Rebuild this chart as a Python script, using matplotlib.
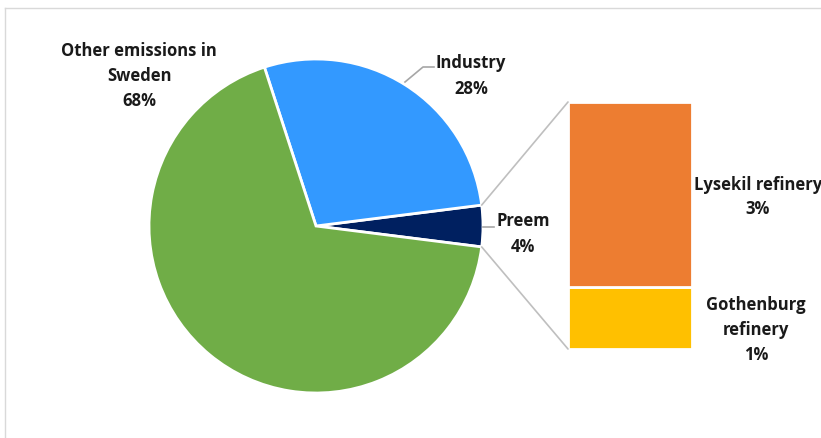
import matplotlib
matplotlib.use("Agg")
import matplotlib.pyplot as plt
from matplotlib.patches import ConnectionPatch
from matplotlib.lines import Line2D
import numpy as np

# data
pie_labels = ["Preem", "Industry", "Other emissions in\nSweden"]
pie_values = [4, 28, 68]
pie_colors = ["#002060", "#3399FF", "#70AD47"]

bar_labels = ["Gothenburg\nrefinery", "Lysekil refinery"]
bar_values = [1, 3]
bar_colors = ["#FFC000", "#ED7D31"]

W, H = 821, 439
plt.rcParams['font.family'] = ['Open Sans', 'DejaVu Sans']
fig = plt.figure(figsize=(W / 100, H / 100), dpi=100)
ax = fig.add_axes([0, 0, 1, 1])
ax.set_xlim(0, W)
ax.set_ylim(0, H)
ax.set_aspect('equal')
ax.axis('off')

cx, cy, r = 316, H - 227, 167
start = -pie_values[0] / 100 * 360 / 2
wedges, _ = ax.pie(pie_values, colors=pie_colors, startangle=start,
                   counterclock=True, center=(cx, cy), radius=r,
                   wedgeprops=dict(edgecolor='white', linewidth=2), frame=True)
ax.set_xlim(0, W)
ax.set_ylim(0, H)
ax.axis('off')

# bar of pie
bx0, bx1, by_top, by_bot = 568, 692, 103, 350
ax2 = fig.add_axes([bx0 / W, (H - by_bot) / H, (bx1 - bx0) / W, (by_bot - by_top) / H])
bottom = 0
for v, c in zip(bar_values, bar_colors):
    ax2.bar(0, v, bottom=bottom, width=1.0, color=c, edgecolor='white', linewidth=2)
    bottom += v
ax2.set_xlim(-0.5, 0.5)
ax2.set_ylim(0, sum(bar_values))
ax2.axis('off')

# connector lines
t1 = np.deg2rad(wedges[0].theta1)
t2 = np.deg2rad(wedges[0].theta2)
for t, yb in [(t2, sum(bar_values)), (t1, 0)]:
    con = ConnectionPatch(xyA=(cx + r * np.cos(t), cy + r * np.sin(t)), coordsA=ax.transData,
                          xyB=(-0.5, yb), coordsB=ax2.transData,
                          color='#bfbfbf', linewidth=1.2)
    fig.add_artist(con)

txt = dict(ha='center', va='center', fontsize=12, fontweight='bold', color='#1a1a1a',
           linespacing=1.5)
ax.text(139, H - 76, f"{pie_labels[2]}\n{pie_values[2]}%", **txt)
ax.text(471, H - 76, f"{pie_labels[1]}\n{pie_values[1]}%", **txt)
ax.text(523, H - 234, f"{pie_labels[0]}\n{pie_values[0]}%", **txt)
ax.text(758, H - 197, f"{bar_labels[1]}\n{bar_values[1]}%", **txt)
ax.text(756, H - 330, f"{bar_labels[0]}\n{bar_values[0]}%", **txt)

# leader lines
ax.plot([405, 423, 434], [H - 83, H - 68, H - 68], color='#a6a6a6', lw=1.2)
ax.plot([483, 494], [H - 228, H - 228], color='#a6a6a6', lw=1.2)

# frame
fig.add_artist(Line2D([5 / W, 1], [1 - 9 / H, 1 - 9 / H], transform=fig.transFigure, color='#d9d9d9', lw=1))
fig.add_artist(Line2D([5 / W, 5 / W], [0, 1 - 9 / H], transform=fig.transFigure, color='#d9d9d9', lw=1))

fig.savefig("out.png", dpi=100, facecolor='white')
